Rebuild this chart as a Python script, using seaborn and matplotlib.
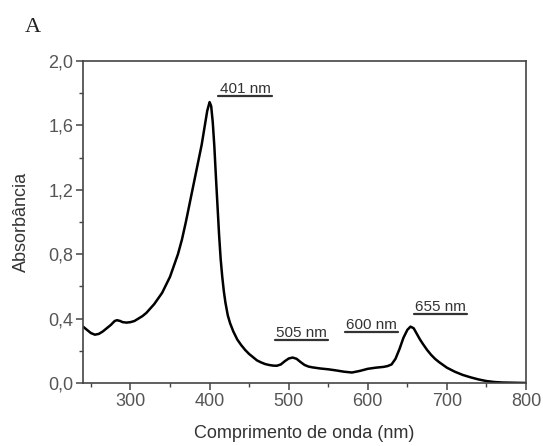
import matplotlib
matplotlib.use("Agg")
import matplotlib.pyplot as plt
import seaborn as sns
import pandas as pd
from matplotlib.ticker import MultipleLocator, FuncFormatter

wavelength = [240, 245, 250, 255, 260, 265, 270, 275, 280, 283, 287, 290, 295, 300, 305, 310, 315, 320,
              330, 340, 350, 360, 365, 370, 375, 380, 385, 390, 394, 397, 400, 402, 404, 406, 408, 410,
              412, 414, 416, 418, 420, 423, 426, 430, 435, 440, 445, 450, 455, 460, 465, 470, 475, 480,
              485, 490, 495, 500, 505, 510, 515, 520, 525, 530, 540, 550, 560, 570, 580, 590, 600, 610,
              620, 625, 630, 635, 640, 645, 650, 654, 658, 662, 666, 670, 675, 680, 685, 690, 700, 710,
              720, 730, 740, 750, 760, 770, 780, 790, 800]
absorbance = [0.35, 0.33, 0.31, 0.30, 0.305, 0.32, 0.34, 0.36, 0.385, 0.39, 0.385, 0.378, 0.375, 0.378,
              0.385, 0.40, 0.415, 0.435, 0.49, 0.56, 0.66, 0.80, 0.89, 1.0, 1.12, 1.24, 1.36, 1.48, 1.6,
              1.69, 1.745, 1.72, 1.62, 1.47, 1.28, 1.10, 0.92, 0.77, 0.66, 0.57, 0.50, 0.42, 0.37, 0.32,
              0.27, 0.235, 0.205, 0.18, 0.16, 0.14, 0.128, 0.118, 0.112, 0.108, 0.107, 0.115, 0.135, 0.152,
              0.158, 0.15, 0.13, 0.112, 0.102, 0.097, 0.09, 0.085, 0.078, 0.07, 0.065, 0.075, 0.088, 0.095,
              0.10, 0.105, 0.115, 0.15, 0.21, 0.28, 0.33, 0.35, 0.34, 0.305, 0.27, 0.24, 0.205, 0.175,
              0.15, 0.13, 0.095, 0.07, 0.05, 0.035, 0.022, 0.012, 0.006, 0.003, 0.002, 0.001, 0.0]

peak_labels = ["401 nm", "505 nm", "600 nm", "655 nm"]
label_x_start = [411, 483, 571, 658]
label_x_end = [479, 550, 638, 725]
label_y = [1.78, 0.267, 0.317, 0.43]

sns.set_theme(style="white")
plt.rcParams['font.family'] = ['Liberation Sans', 'DejaVu Sans']

fig = plt.figure(figsize=(5.43, 4.46), dpi=100)
ax = fig.add_axes([0.1529, 0.1413, 0.8158, 0.7219])

df = pd.DataFrame({"nm": wavelength, "abs": absorbance})
sns.lineplot(data=df, x="nm", y="abs", ax=ax, color="black", linewidth=1.8, sort=False)

ax.set_xlim(240, 800)
ax.set_ylim(0, 2.0)
ax.xaxis.set_major_locator(MultipleLocator(100))
ax.xaxis.set_minor_locator(MultipleLocator(50))
ax.yaxis.set_major_locator(MultipleLocator(0.4))
ax.yaxis.set_minor_locator(MultipleLocator(0.2))
ax.yaxis.set_major_formatter(FuncFormatter(lambda v, p: f"{v:.1f}".replace(".", ",")))
ax.tick_params(axis="both", which="major", direction="out", length=5, width=1.1,
               color="#444444", labelsize=13, labelcolor="#555555", bottom=True, left=True, pad=2)
ax.tick_params(axis="both", which="minor", direction="out", length=3, width=1.0,
               color="#444444", bottom=True, left=True)
for s in ax.spines.values():
    s.set_color("#444444")
    s.set_linewidth(1.2)

ax.set_xlabel("Comprimento de onda (nm)", fontsize=13, color="#333333", labelpad=11)
ax.set_ylabel("Absorbância", fontsize=13, color="#333333", labelpad=13)

for lab, x0, x1, y in zip(peak_labels, label_x_start, label_x_end, label_y):
    ax.text((x0 + x1) / 2, y + 0.02, lab, ha="center", va="baseline", fontsize=11, color="#333333")
    ax.plot([x0, x1], [y, y], color="#333333", linewidth=1.6)

fig.text(0.061, 0.938, "A", fontsize=16, family="Liberation Serif", color="#222222", ha="center", va="center")

fig.savefig("out.png", dpi=100)
